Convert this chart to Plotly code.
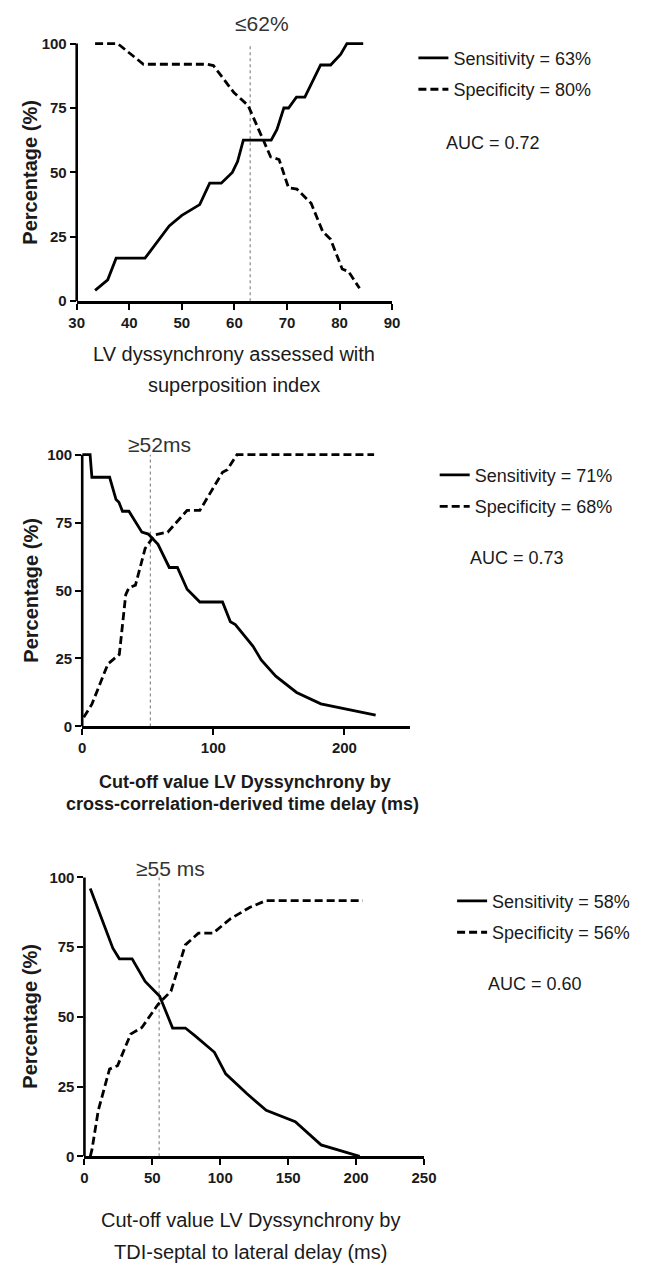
import plotly.graph_objects as go

# ---------------- data ----------------
# Panel 1: superposition index
sens1_x = [33.5, 35.9, 37.5, 43.0, 47.6, 50.0, 53.4, 55.3, 57.5, 59.6, 60.6, 61.7, 67.0, 68.1, 69.4, 70.3, 71.8, 73.4, 76.4, 78.3, 80.2, 81.4, 84.5]
sens1_y = [4.2, 8.3, 16.7, 16.7, 29.2, 33.3, 37.5, 45.8, 45.8, 50.0, 54.2, 62.5, 62.5, 66.7, 75.0, 75.0, 79.2, 79.2, 91.7, 91.7, 95.8, 100, 100]
spec1_x = [33.5, 37.8, 42.7, 54.7, 56.0, 59.9, 62.6, 64.2, 66.9, 68.5, 70.3, 71.9, 74.6, 76.8, 78.3, 80.5, 81.7, 83.8]
spec1_y = [100, 100, 92, 92, 91.5, 81, 76, 68.5, 56, 55, 44, 43.5, 38, 27, 24, 12.5, 11.5, 5]

# Panel 2: cross-correlation-derived time delay (ms)
sens2_x = [0, 6, 7.4, 20.9, 25.8, 28, 30.7, 35.6, 45.5, 50.4, 57.8, 66.4, 72.6, 80, 89.7, 107, 113, 116.8, 130.3, 136.5, 147.6, 163.5, 182, 223.8]
sens2_y = [100, 100, 91.7, 91.7, 83.5, 82.5, 79.2, 79.2, 71.5, 70.8, 67, 58.5, 58.5, 50.5, 45.8, 45.8, 38.5, 37.5, 29.5, 24.5, 18.5, 12.5, 8.3, 4.2]
spec2_x = [1.2, 7.4, 19.6, 28.3, 33.2, 35.6, 40.6, 48, 55.3, 65.2, 80, 89.7, 107, 110.7, 118, 222.6]
spec2_y = [3.4, 8.2, 23, 26.5, 48.5, 51, 52, 65.5, 70.5, 71.5, 79.5, 79.5, 93.5, 94.5, 100, 100]

# Panel 3: TDI septal to lateral delay (ms)
sens3_x = [4.3, 12.6, 20.9, 25.7, 35.1, 44.7, 55.4, 64.9, 74.3, 81.5, 95.7, 104, 119.5, 133.8, 155.2, 174.2, 202.6]
sens3_y = [96, 85, 74.6, 70.8, 70.8, 62.7, 57.4, 46, 46, 43.2, 37.3, 29.6, 22.5, 16.5, 12.4, 4.1, 0]
spec3_x = [4.3, 5.5, 10.2, 18.5, 24.4, 34, 42.3, 54.2, 63.7, 74.3, 83.9, 94.6, 107.6, 121.9, 133.8, 205]
spec3_y = [0, 2.3, 16.5, 31.3, 32.5, 43.8, 46.2, 54.5, 59.2, 75.8, 80, 80, 85.2, 89.3, 91.7, 91.7]

cutoff_x = [63, 52, 55]
cutoff_labels = ["≤62%", "≥52ms", "≥55 ms"]
sens_names = ["Sensitivity = 63%", "Sensitivity = 71%", "Sensitivity = 58%"]
spec_names = ["Specificity = 80%", "Specificity = 68%", "Specificity = 56%"]
auc_labels = ["AUC = 0.72", "AUC = 0.73", "AUC = 0.60"]
x_ranges = [[30, 90], [0, 250], [0, 250]]
x_dticks = [10, 100, 50]
y_ticks = [0, 25, 50, 75, 100]
x_titles = [["LV dyssynchrony assessed with", "superposition index"],
            ["Cut-off value LV Dyssynchrony by", "cross-correlation-derived time delay (ms)"],
            ["Cut-off value LV Dyssynchrony by", "TDI-septal to lateral delay (ms)"]]
y_title = "Percentage (%)"

# ---------------- layout geometry (pixels) ----------------
W, H = 647, 1274
FONT = "Liberation Sans, Arial, sans-serif"
TXT = "#1a1a1a"
YMAX = 102
geom = [
    dict(x0=71, x1=397, y0=300, y100=40, cut_dy=20, cut_shift=12,
         leg_x=419, leg_y=51, auc=(501, 140), xt=[(234, 353), (234, 385)], xt_bold=False, xt_size=20, yt=(23, 170)),
    dict(x0=76.7, x1=415.5, y0=729.3, y100=455, cut_dy=445, cut_shift=9,
         leg_x=441, leg_y=472, auc=(526, 559), xt=[(245, 785), (242, 808)], xt_bold=True, xt_size=18, yt=(24, 592)),
    dict(x0=79, x1=430, y0=1163.3, y100=881.7, cut_dy=873, cut_shift=11,
         leg_x=459, leg_y=902, auc=(545, 989), xt=[(251, 1228), (251, 1260)], xt_bold=False, xt_size=20, yt=(23, 1022)),
]

def px2x(p):
    return p / W

def px2y(p):
    return 1 - p / H

sens_x = [sens1_x, sens2_x, sens3_x]
sens_y = [sens1_y, sens2_y, sens3_y]
spec_x = [spec1_x, spec2_x, spec3_x]
spec_y = [spec1_y, spec2_y, spec3_y]

fig = go.Figure()
layout = dict(width=W, height=H, margin=dict(l=0, r=0, t=0, b=0),
              paper_bgcolor="white", plot_bgcolor="white", showlegend=True,
              font=dict(family=FONT, color=TXT))
annotations = []
shapes = []

for i, g in enumerate(geom):
    n = "" if i == 0 else str(i + 1)
    xa, ya = "x" + n, "y" + n
    leg = "legend" + n
    # cutoff dotted line
    fig.add_trace(go.Scatter(x=[cutoff_x[i], cutoff_x[i]], y=[0, 100], mode="lines",
                             line=dict(color="#8a8a8a", width=1.2, dash="dot"),
                             xaxis=xa, yaxis=ya, showlegend=False, hoverinfo="skip"))
    fig.add_trace(go.Scatter(x=sens_x[i], y=sens_y[i], mode="lines", name=sens_names[i],
                             line=dict(color="black", width=2.8), xaxis=xa, yaxis=ya,
                             legend=leg, legendgroup="sens" + n))
    fig.add_trace(go.Scatter(x=spec_x[i], y=spec_y[i], mode="lines", name=spec_names[i],
                             line=dict(color="black", width=2.8, dash="8px,4px"), xaxis=xa, yaxis=ya,
                             legend=leg, legendgroup="spec" + n))

    pp = (g["y0"] - g["y100"]) / 100.0
    top_px = g["y0"] - pp * YMAX
    layout["xaxis" + n] = dict(domain=[px2x(g["x0"]), px2x(g["x1"])], range=x_ranges[i],
                               tick0=x_ranges[i][0], dtick=x_dticks[i], anchor=ya,
                               showline=True, linecolor="black", linewidth=2.6,
                               ticks="outside", ticklen=6, tickwidth=2.4, tickcolor="black",
                               showgrid=False, zeroline=False,
                               tickfont=dict(family=FONT, size=15, weight="bold", color=TXT))
    layout["yaxis" + n] = dict(domain=[px2y(g["y0"]), px2y(top_px)], range=[0, YMAX],
                               tickvals=y_ticks, anchor=xa,
                               showline=False, ticks="outside", ticklen=6, tickwidth=2.4,
                               tickcolor="black", showgrid=False, zeroline=False,
                               tickfont=dict(family=FONT, size=15, weight="bold", color=TXT))
    shapes.append(dict(type="line", xref=xa + " domain", yref=ya, x0=0, x1=0, y0=0, y1=100,
                       line=dict(color="black", width=2.6)))
    layout[leg] = dict(x=px2x(g["leg_x"]), y=px2y(g["leg_y"] - 15), xanchor="left", yanchor="top",
                       bgcolor="rgba(0,0,0,0)", borderwidth=0, tracegroupgap=5,
                       font=dict(family=FONT, size=18, color=TXT), itemwidth=30)
    annotations.append(dict(text=cutoff_labels[i], xref=xa, x=cutoff_x[i], xshift=g["cut_shift"],
                            yref="paper", y=px2y(g["cut_dy"]), xanchor="center", yanchor="middle",
                            showarrow=False, font=dict(family=FONT, size=21, color="#333")))
    annotations.append(dict(text=auc_labels[i], xref="paper", yref="paper",
                            x=px2x(g["auc"][0]), y=px2y(g["auc"][1]), xanchor="center", yanchor="middle",
                            showarrow=False, font=dict(family=FONT, size=18, color=TXT)))
    for (cx, cy), t in zip(g["xt"], x_titles[i]):
        annotations.append(dict(text=t, xref="paper", yref="paper", x=px2x(cx), y=px2y(cy),
                                xanchor="center", yanchor="middle", showarrow=False,
                                font=dict(family=FONT, size=g["xt_size"], color=TXT,
                                          weight="bold" if g["xt_bold"] else "normal")))
    annotations.append(dict(text=y_title, xref="paper", yref="paper", x=px2x(g["yt"][0]),
                            y=px2y(g["yt"][1]), xanchor="center", yanchor="middle", textangle=-90,
                            showarrow=False, font=dict(family=FONT, size=20, weight="bold", color=TXT)))

layout["annotations"] = annotations
layout["shapes"] = shapes
fig.update_layout(**layout)
fig.write_html("out.html")
